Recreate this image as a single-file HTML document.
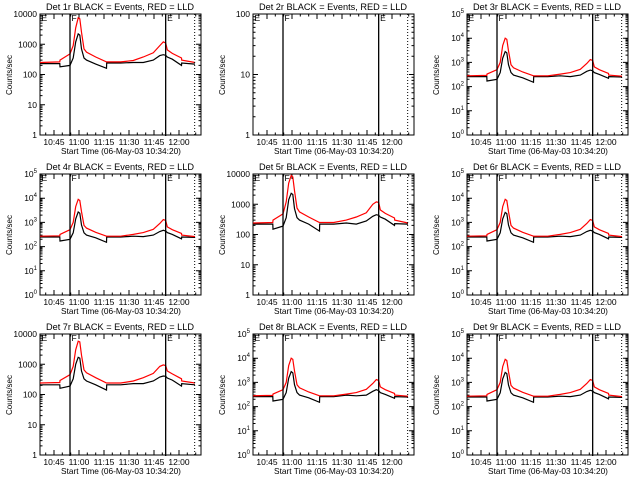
<!DOCTYPE html>
<html><head><meta charset="utf-8">
<style>
html,body{margin:0;padding:0;background:#fff;}
svg{display:block;font-family:"Liberation Sans",sans-serif;}
</style></head>
<body>
<svg id="chart" width="640" height="480" xmlns="http://www.w3.org/2000/svg"></svg>
<script>
// time in minutes after 10:00
const times = [36.6, 48.5, 48.6, 54.6, 56.5, 58, 59.5, 60.5, 61.5, 63, 64.5, 70, 76.5, 76.6, 85, 92.6, 98.6, 104.6, 108.5, 110.6, 112, 113, 116, 121.5, 121.6, 129.6];
const detectors = [1,2,3,4,5,6,7,8,9];
const yMinExp = [0,0,0,0,0,0,0,0,0];
const yMaxExp = [4,2,5,5,4,5,4,5,5];
const expLabels = [false,false,true,true,false,true,false,true,true];
const tickTimes = [45,60,75,90,105,120];
const tickLabels = ["10:45","11:00","11:15","11:30","11:45","12:00"];
const solidLines = [54.6, 112];
const dottedLines = [129.4];
const red1 = [250,260,300,480,900,3500,7500,7000,2500,700,550,380,260,260,260,290,380,520,900,1200,1100,650,500,350,300,250];
const blk1 = [230,230,180,200,350,1200,2200,2000,700,350,300,220,160,240,240,250,250,300,420,450,430,380,320,200,240,220];
const red3 = [280,290,330,500,1000,5000,10000,9000,3000,800,600,400,280,280,280,330,380,520,900,1300,1200,650,500,350,300,270];
const blk3 = [260,260,170,200,380,1500,2800,2500,800,380,300,230,150,260,260,280,260,300,430,480,450,380,320,220,260,250];
const red4 = [270,280,320,500,1000,4500,9000,8000,2800,750,580,390,270,270,270,320,380,520,900,1300,1200,650,500,350,300,260];
const blk4 = [250,250,170,200,370,1400,2700,2400,780,370,300,230,150,250,250,270,260,300,420,470,440,380,320,210,250,240];
const red5 = [240,250,300,480,1200,5000,9000,8000,2800,750,560,380,250,250,250,300,380,520,1000,1200,1150,650,500,350,300,240];
const blk5 = [220,220,150,190,360,1400,2300,2100,720,360,300,220,130,220,220,240,220,280,400,450,430,380,320,200,230,220];
const red6 = [270,280,320,500,1000,4500,9000,8000,2800,750,580,390,270,270,270,320,380,520,900,1300,1200,650,500,350,300,260];
const blk6 = [250,250,170,200,370,1400,2600,2300,780,370,300,230,150,250,250,270,260,300,420,470,440,380,320,210,250,240];
const red7 = [240,250,290,450,850,3000,5800,5500,2000,650,520,360,240,240,240,280,360,500,850,950,900,600,480,330,280,240];
const blk7 = [210,210,160,190,330,1000,1700,1600,600,330,280,210,140,210,210,230,230,280,380,410,400,350,300,190,230,210];
const red8 = [280,290,330,500,1000,5000,10000,9000,3000,800,600,400,280,280,280,330,380,520,900,1300,1200,650,500,350,300,270];
const blk8 = [260,260,170,200,380,1500,2800,2500,800,380,300,230,150,260,260,300,280,300,430,500,460,380,320,220,260,250];
const red9 = [270,280,320,500,1000,4500,9000,8000,2800,750,580,390,270,270,270,320,380,520,900,1300,1200,650,500,350,300,260];
const blk9 = [250,250,170,200,370,1400,2600,2300,780,370,300,230,150,250,250,270,260,300,420,470,440,380,320,210,250,240];
const redSeries = [red1,null,red3,red4,red5,red6,red7,red8,red9];
const blkSeries = [blk1,null,blk3,blk4,blk5,blk6,blk7,blk8,blk9];

const svg = document.getElementById('chart');
const NS = 'http://www.w3.org/2000/svg';
function mk(tag, attrs, parent){const e=document.createElementNS(NS,tag);for(const k in attrs)e.setAttribute(k,attrs[k]);parent.appendChild(e);return e;}

const PX0=40, PX1=201, PY0=14, PY1=135, T0=36.6, T1=133.2;
detectors.forEach((det,i)=>{
  const ox = [0,213,427][i%3], oy = [0,160,320][Math.floor(i/3)];
  const g = mk('g',{transform:`translate(${ox},${oy})`},svg);
  
  
  const lo=yMinExp[i], hi=yMaxExp[i];
  const xs = t => PX0 + (t-T0)/(T1-T0)*(PX1-PX0);
  const ys = v => PY1 - (Math.log10(v)-lo)/(hi-lo)*(PY1-PY0);
  const title = mk('text',{x:120,y:10,'font-size':'9.2','text-anchor':'middle'},g);
  title.textContent = `Det ${det}r BLACK = Events, RED = LLD`;
  
  
  const yl = mk('text',{x:0,y:0,'font-size':'8','text-anchor':'middle',transform:'translate(12,75) rotate(-90)'},g);
  yl.textContent='Counts/sec';
  
  
  const xl = mk('text',{x:121,y:154,'font-size':'8.3','text-anchor':'middle'},g);
  xl.textContent='Start Time (06-May-03 10:34:20)';
  
  
  const frame = mk('rect',{x:PX0,y:PY0,width:PX1-PX0,height:PY1-PY0,fill:'none',stroke:'#000','stroke-width':1},g);
  
  
  let d='';
  for(let t=40;t<=T1;t+=5){const x=xs(t).toFixed(1);const L=(t%15===0)?5:2.5;d+=`M${x} ${PY1}v${-L}M${x} ${PY0}v${L}`;}
  for(let e=lo;e<=hi;e++){
    for(let m=1;m<10;m++){
      if(e===hi&&m>1)break;
      const y=ys(m*Math.pow(10,e)).toFixed(1);const L=m===1?5:2.5;
      d+=`M${PX0} ${y}h${L}M${PX1} ${y}h${-L}`;
    }
  }
  const ticks = mk('path',{d:d,stroke:'#000','stroke-width':1,fill:'none'},g);
  
  
  tickTimes.forEach((t,k)=>{
    const tx = mk('text',{x:xs(t),y:145,'font-size':'8.5','text-anchor':'middle'},g);
    tx.textContent=tickLabels[k];
    
    
  });
  for(let e=lo;e<=hi;e++){
    const y=ys(Math.pow(10,e));
    const tx = mk('text',{x:37,y:y+3,'font-size':'8.5','text-anchor':'end'},g);
    if(expLabels[i]){
      tx.textContent='10';
      const s=mk('tspan',{'font-size':'6',dy:'-4'},tx); s.textContent=String(e);
    } else tx.textContent=String(Math.pow(10,e));
    
    
  }
  const clip='c'+i;
  const cp=mk('clipPath',{id:clip},g); mk('rect',{x:PX0,y:PY0,width:PX1-PX0,height:PY1-PY0},cp);
  [[blkSeries[i],'#000','events-line'],[redSeries[i],'#f00','lld-line']].forEach(([arr,col,nm])=>{
    if(!arr)return;
    const pts=arr.map((v,k)=>xs(times[k]).toFixed(1)+','+ys(v).toFixed(1)).join(' ');
    const pl=mk('polyline',{points:pts,fill:'none',stroke:col,'stroke-width':1.2,'clip-path':`url(#${clip})`},g);
    
    
  });
  solidLines.forEach(t=>{
    const l=mk('line',{x1:xs(t),x2:xs(t),y1:PY0,y2:PY1+1,stroke:'#000','stroke-width':1.3},g);
    
    
  });
  dottedLines.forEach(t=>{
    const l=mk('line',{x1:xs(t),x2:xs(t),y1:PY0,y2:PY1,stroke:'#000','stroke-width':1,'stroke-dasharray':'1,2'},g);
    
    
  });
  [[T0,'E'],[solidLines[0],'F'],[solidLines[1],'E']].forEach(([t,s])=>{
    const m=mk('text',{x:xs(t)+1.5,y:PY0+7,'font-size':'8.5'},g);
    m.textContent=s;
    
    
  });
});
</script>
</body></html>
